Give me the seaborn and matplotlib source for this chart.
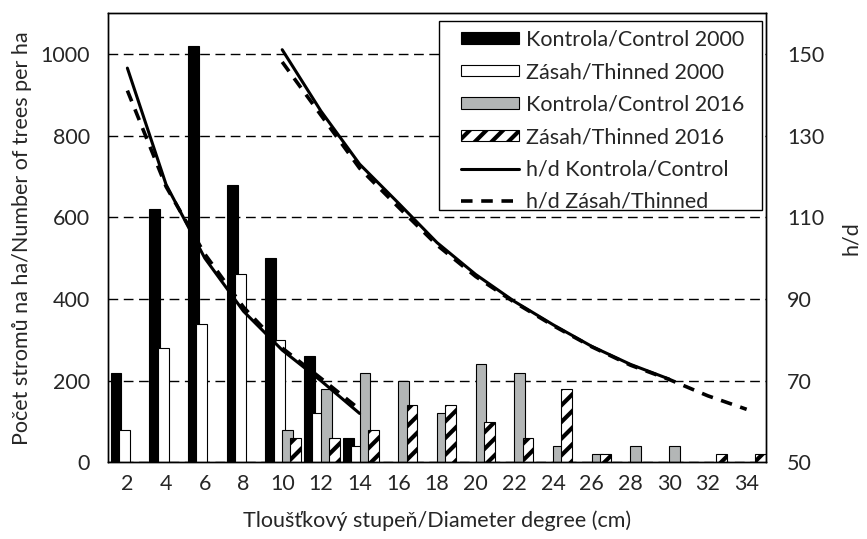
import pandas as pd
import matplotlib
matplotlib.use("Agg")
import matplotlib.pyplot as plt
from matplotlib.patches import Patch, Rectangle
from matplotlib.lines import Line2D
import seaborn as sns

# diameter classes (cm)
dbh = [2, 4, 6, 8, 10, 12, 14, 16, 18, 20, 22, 24, 26, 28, 30, 32, 34]

# number of trees per ha
kontrola_2000 = [220, 620, 1020, 680, 500, 260, 60, 0, 0, 0, 0, 0, 0, 0, 0, 0, 0]
zasah_2000 = [80, 280, 340, 460, 300, 120, 40, 0, 0, 0, 0, 0, 0, 0, 0, 0, 0]
kontrola_2016 = [0, 0, 0, 0, 80, 180, 220, 200, 120, 240, 220, 40, 20, 40, 40, 0, 0]
zasah_2016 = [0, 0, 0, 0, 60, 60, 80, 140, 140, 100, 60, 180, 20, 0, 0, 20, 20]

# h/d curves
hd_dbh_2000 = [2, 4, 6, 8, 10, 12, 14]
hd_kontrola_2000 = [146.5, 118, 100, 87, 77.5, 70, 62]
hd_zasah_2000 = [141, 117.5, 101, 88, 78, 70.6, 63]
hd_dbh_k2016 = [10, 12, 14, 16, 18, 20, 22, 24, 26, 28, 30]
hd_kontrola_2016 = [151, 136, 123, 113.5, 103.8, 96, 89.4, 83.7, 78.4, 74, 70.4]
hd_dbh_z2016 = [10, 12, 14, 16, 18, 20, 22, 24, 26, 28, 30, 32, 34]
hd_zasah_2016 = [148, 135, 122, 112.5, 103.2, 95.5, 89.2, 83.5, 78.3, 73.8, 70.3, 66.3, 63]

series = ["Kontrola/Control 2000", "Zásah/Thinned 2000",
          "Kontrola/Control 2016", "Zásah/Thinned 2016"]
colors = ["black", "white", "#b3b6b6", "white"]

sns.set_style("white")
plt.rcParams["font.family"] = ["Lato", "DejaVu Sans"]
plt.rcParams["hatch.linewidth"] = 3.0
plt.rcParams["hatch.color"] = "black"
fs = 15.5

labels = [str(d) for d in dbh]
rows = []
for name, vals in zip(series, [kontrola_2000, zasah_2000, kontrola_2016, zasah_2016]):
    for lab, v in zip(labels, vals):
        rows.append([lab, name, v])
df = pd.DataFrame(rows, columns=["dbh", "series", "count"])

fig = plt.figure(figsize=(8.67, 5.39), dpi=100)
ax = fig.add_axes([0.1246, 0.142, 0.7589, 0.834])

sns.barplot(data=df, x="dbh", y="count", hue="series", order=labels,
            hue_order=series, palette=colors, saturation=1, width=0.86,
            edgecolor="black", linewidth=0.8, legend=False, ax=ax)

# excel-like overlapping bars: widen each bar around its center
w = 0.28
for k, cont in enumerate(ax.containers):
    for bar in cont:
        c = bar.get_x() + bar.get_width() / 2 + 0.03
        bar.set_width(w)
        bar.set_x(c - w / 2)
        if bar.get_height() == 0:
            bar.set_visible(False)
        if k == 3:
            bar.set_hatch("//")

ax.set_ylim(0, 1100)
ax.set_yticks(range(0, 1001, 200))
ax.set_axisbelow(True)
ax.yaxis.grid(True, color="black", linestyle=(0, (7, 4)), linewidth=1.0)
ax.tick_params(axis="both", length=0, labelsize=fs)
ax.tick_params(axis="y", pad=13)
ax.tick_params(axis="x", pad=8)
ax.set_xlabel("Tloušťkový stupeň/Diameter degree (cm)", fontsize=fs, labelpad=12)
ax.set_ylabel("Počet stromů na ha/Number of trees per ha", fontsize=fs, labelpad=6)

ax2 = ax.twinx()
pos = {d: i for i, d in enumerate(dbh)}
sns.lineplot(x=[pos[d] for d in hd_dbh_2000], y=hd_kontrola_2000, color="black", lw=2.2, ax=ax2)
sns.lineplot(x=[pos[d] for d in hd_dbh_k2016], y=hd_kontrola_2016, color="black", lw=2.2, ax=ax2)
sns.lineplot(x=[pos[d] for d in hd_dbh_2000], y=hd_zasah_2000, color="black", lw=2.6,
             linestyle=(0, (3.2, 2.4)), ax=ax2)
sns.lineplot(x=[pos[d] for d in hd_dbh_z2016], y=hd_zasah_2016, color="black", lw=2.6,
             linestyle=(0, (3.2, 2.4)), ax=ax2)
ax2.set_ylim(50, 160)
ax2.set_yticks(range(50, 151, 20))
ax2.tick_params(axis="y", length=0, labelsize=fs, pad=15)
ax2.set_ylabel("h/d", fontsize=fs, labelpad=12)
ax.set_xlim(-0.5, len(dbh) - 0.5)

for a in (ax, ax2):
    for s in a.spines.values():
        s.set_visible(True)
        s.set_color("black")
        s.set_linewidth(1.0)

# legend box drawn separately (excel keeps a wide left margin)
ax2.add_patch(Rectangle((0.503, 0.562), 0.491, 0.42, transform=ax2.transAxes,
                        facecolor="white", edgecolor="black", linewidth=1.0, zorder=4))
handles = [Patch(facecolor=c, edgecolor="black", linewidth=0.8, hatch=h)
           for c, h in zip(colors, [None, None, None, "//"])]
handles += [Line2D([], [], color="black", lw=2.2),
            Line2D([], [], color="black", lw=2.6, linestyle=(0, (3.2, 2.4)))]
leg_labels = series + ["h/d Kontrola/Control", "h/d Zásah/Thinned"]
leg = ax2.legend(handles, leg_labels, loc="upper left", bbox_to_anchor=(0.537, 0.963),
                 borderaxespad=0, borderpad=0, fontsize=fs, frameon=False,
                 handlelength=2.7, handleheight=0.45, handletextpad=0.3,
                 labelspacing=0.58)
leg.set_zorder(5)

fig.savefig("out.png", dpi=100)
